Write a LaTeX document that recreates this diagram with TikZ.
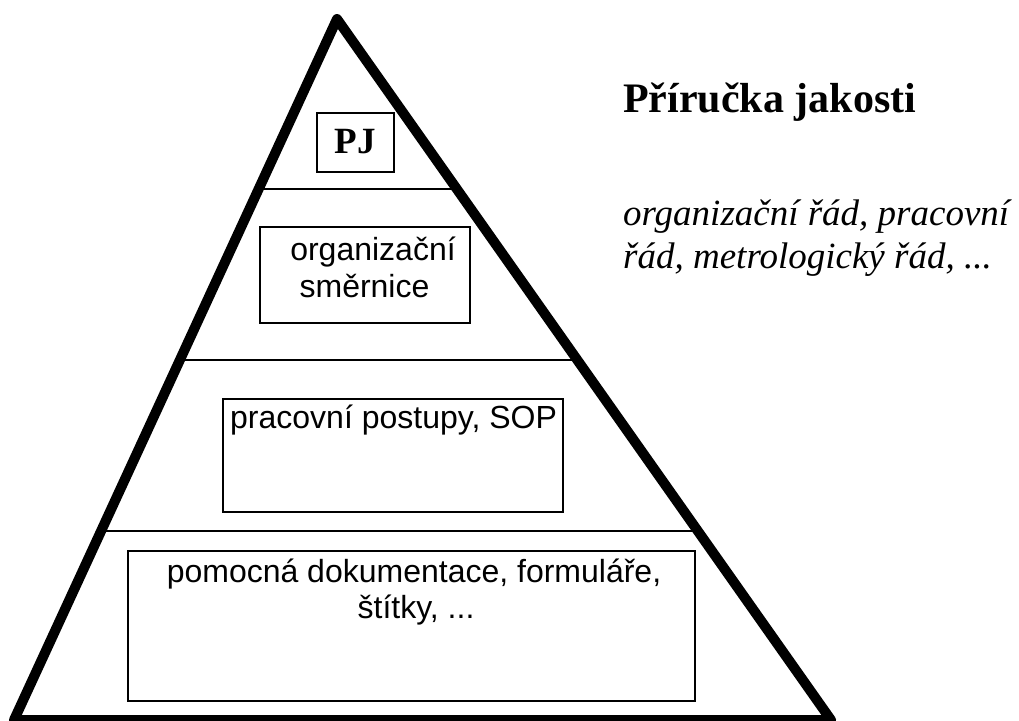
\documentclass[tikz,border=0pt]{standalone}
\usepackage{fontspec}
\setmainfont{Liberation Serif}
\newfontfamily\arialf{Liberation Sans}
\usetikzlibrary{calc}
\begin{document}
\begin{tikzpicture}[x=1pt,y=-1pt,
  pyramid/.style={line width=10pt, line join=round},
  divider/.style={line width=2.5pt},
  docbox/.style={draw, line width=2.5pt, inner sep=0pt},
  boxtext/.style={font=\arialf\fontsize{32}{37}\selectfont, inner sep=0pt, anchor=base},
  sidetext/.style={inner sep=0pt, anchor=base west},
]
\useasboundingbox (0,0) rectangle (1019,720);
\coordinate (A) at (337,19);
\coordinate (B) at (14,720);
\coordinate (C) at (831,720);
% dividers
\coordinate (d1l) at ($(A)!0.2425!(B)$);
\coordinate (d1r) at ($(A)!0.2425!(C)$);
\coordinate (d2l) at ($(A)!0.4864!(B)$);
\coordinate (d2r) at ($(A)!0.4864!(C)$);
\coordinate (d3l) at ($(A)!0.7304!(B)$);
\coordinate (d3r) at ($(A)!0.7304!(C)$);
\draw[divider] (d1l) -- (d1r);
\draw[divider] (d2l) -- (d2r);
\draw[divider] (d3l) -- (d3r);
% triangle
\draw[pyramid] (B) -- (A) -- (C) -- cycle;
% boxes
\node[docbox, minimum width=77pt, minimum height=59pt] (pjbox) at (355.5,142.5) {};
\node[docbox, minimum width=210pt, minimum height=96pt] (orgbox) at (365,275) {};
\node[docbox, minimum width=340pt, minimum height=113pt] (sopbox) at (393,455.5) {};
\node[docbox, minimum width=567pt, minimum height=150pt] (pombox) at (411.5,626) {};
% box texts
\node[inner sep=0pt, anchor=base, font=\bfseries\fontsize{37}{40}\selectfont] (pj) at (355,153) {PJ};
\node[boxtext] (org1) at (373,260) {organizační};
\node[boxtext] (org2) at (364.5,297) {směrnice};
\node[boxtext, anchor=base west] (sop) at (230,428) {pracovní postupy, SOP};
\node[boxtext] (pom1) at (414,582) {pomocná dokumentace, formuláře,};
\node[boxtext] (pom2) at (416,618) {štítky, ...};
% side texts
\node[sidetext, font=\bfseries\fontsize{42}{48}\selectfont] (title) at (623,112) {Příručka jakosti};
\node[sidetext, font=\itshape\fontsize{37}{43}\selectfont] (it1) at (623,225) {organizační řád, pracovní};
\node[sidetext, font=\itshape\fontsize{37}{43}\selectfont] (it2) at (623,268) {řád, metrologický řád, ...};
\end{tikzpicture}
\end{document}
